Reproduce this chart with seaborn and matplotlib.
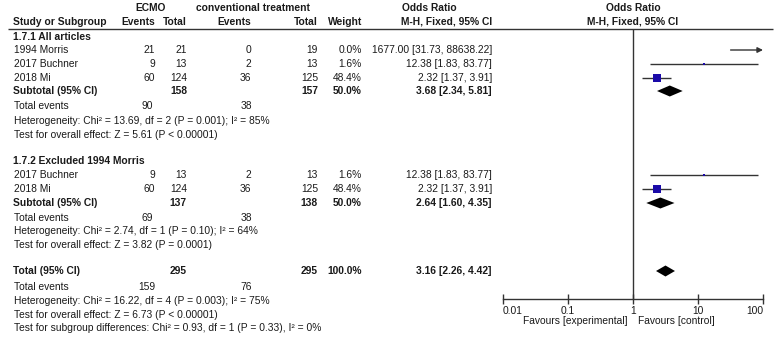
import numpy as np
import pandas as pd
import matplotlib
matplotlib.use("Agg")
import matplotlib.pyplot as plt
import seaborn as sns

sns.set_theme(style="white")
plt.rcParams['font.family'] = ['Liberation Sans', 'DejaVu Sans']

# ---- data ----
sub1_names = ["1994 Morris", "2017 Buchner", "2018 Mi"]
sub1_e_events = [21, 9, 60]
sub1_e_total = [21, 13, 124]
sub1_c_events = [0, 2, 36]
sub1_c_total = [19, 13, 125]
sub1_weight = [0.0, 1.6, 48.4]
sub1_or = [1677.00, 12.38, 2.32]
sub1_lo = [31.73, 1.83, 1.37]
sub1_hi = [88638.22, 83.77, 3.91]
sub1_sum = [3.68, 2.34, 5.81]
sub1_totals = [158, 157, 50.0]
sub1_events = [90, 38]
sub1_het = ["Heterogeneity: Chi² = 13.69, df = 2 (P = 0.001); I² = 85%",
            "Test for overall effect: Z = 5.61 (P < 0.00001)"]

sub2_names = ["2017 Buchner", "2018 Mi"]
sub2_e_events = [9, 60]
sub2_e_total = [13, 124]
sub2_c_events = [2, 36]
sub2_c_total = [13, 125]
sub2_weight = [1.6, 48.4]
sub2_or = [12.38, 2.32]
sub2_lo = [1.83, 1.37]
sub2_hi = [83.77, 3.91]
sub2_sum = [2.64, 1.60, 4.35]
sub2_totals = [137, 138, 50.0]
sub2_events = [69, 38]
sub2_het = ["Heterogeneity: Chi² = 2.74, df = 1 (P = 0.10); I² = 64%",
            "Test for overall effect: Z = 3.82 (P = 0.0001)"]

total_sum = [3.16, 2.26, 4.42]
total_totals = [295, 295, 100.0]
total_events = [159, 76]
total_het = ["Heterogeneity: Chi² = 16.22, df = 4 (P = 0.003); I² = 75%",
             "Test for overall effect: Z = 6.73 (P < 0.00001)",
             "Test for subgroup differences: Chi² = 0.93, df = 1 (P = 0.33), I² = 0%"]

tick_vals = [0.01, 0.1, 1, 10, 100]
tick_labels = ["0.01", "0.1", "1", "10", "100"]

# ---- layout ----
W, H = 778, 339
FS = 7.4
TXT = "#1a1a1a"
LINE = "#333333"
SQ = "#1a0aa8"

fig = plt.figure(figsize=(W / 100, H / 100), dpi=100)
ax = fig.add_axes([0, 0, 1, 1])
ax.set_xlim(0, W)
ax.set_ylim(H, 0)
ax.axis("off")

axis_y, top_y, x0, x1 = 299, 29, 503, 763
fax = fig.add_axes([x0 / W, (H - axis_y) / H, (x1 - x0) / W, (axis_y - top_y) / H])
fax.patch.set_alpha(0)

col_ev, col_tot, col_cev, col_ctot, col_w, col_ci = 155, 187, 251, 318, 362, 492


def txt(x, y, s, ha="left", bold=False):
    ax.text(x, y, s, ha=ha, va="center", fontsize=FS, color=TXT,
            fontweight="bold" if bold else "normal")


# headers
txt(151, 8, "ECMO", "center", True)
txt(253, 8, "conventional treatment", "center", True)
txt(402, 8, "Odds Ratio", "left", True)
txt(633, 8, "Odds Ratio", "center", True)
txt(13, 22, "Study or Subgroup", bold=True)
txt(col_ev, 22, "Events", "right", True)
txt(col_tot, 22, "Total", "right", True)
txt(col_cev, 22, "Events", "right", True)
txt(col_ctot, 22, "Total", "right", True)
txt(col_w, 22, "Weight", "right", True)
txt(401, 22, "M-H, Fixed, 95% CI", "left", True)
txt(633, 22, "M-H, Fixed, 95% CI", "center", True)
ax.hlines(29, 8, 773, color=LINE, lw=1)


def ci_text(v):
    return f"{v[0]:.2f} [{v[1]:.2f}, {v[2]:.2f}]"


def study_rows(ys, names, ee, et, ce, ct, w, o, lo, hi):
    for i, y in enumerate(ys):
        txt(14, y, names[i])
        txt(col_ev, y, str(ee[i]), "right")
        txt(col_tot, y, str(et[i]), "right")
        txt(col_cev, y, str(ce[i]), "right")
        txt(col_ctot, y, str(ct[i]), "right")
        txt(col_w, y, f"{w[i]:.1f}%", "right")
        txt(col_ci, y, ci_text([o[i], lo[i], hi[i]]), "right")
        if hi[i] > 100:
            fax.annotate("", xy=(100, y), xytext=(lo[i], y),
                         arrowprops=dict(arrowstyle="-|>", color=LINE, lw=1,
                                         mutation_scale=8, shrinkA=0, shrinkB=0))
        else:
            fax.hlines(y, max(lo[i], 0.01), hi[i], color=LINE, lw=1)
    df = pd.DataFrame({"or": o, "y": ys, "w": w})
    sns.scatterplot(data=df, x="or", y="y", size="w", sizes=(0, 37.4),
                    size_norm=(0, 48.4), marker="s", color=SQ, linewidth=0,
                    legend=False, ax=fax, zorder=3)


def diamond(y, v, h=5.5):
    fax.fill([v[1], v[0], v[2], v[0]], [y, y - h, y, y + h], color="black", lw=0)


def summary(y, label, v, totals):
    txt(13, y, label, bold=True)
    txt(col_tot, y, str(totals[0]), "right", True)
    txt(col_ctot, y, str(totals[1]), "right", True)
    txt(col_w, y, f"{totals[2]:.1f}%", "right", True)
    txt(col_ci, y, ci_text(v), "right", True)
    diamond(y, v)


# subgroup 1
txt(13, 37, "1.7.1 All articles", bold=True)
study_rows([50, 64, 78], sub1_names, sub1_e_events, sub1_e_total, sub1_c_events,
           sub1_c_total, sub1_weight, sub1_or, sub1_lo, sub1_hi)
summary(91, "Subtotal (95% CI)", sub1_sum, sub1_totals)
txt(14, 106, "Total events")
txt(153, 106, str(sub1_events[0]), "right")
txt(252, 106, str(sub1_events[1]), "right")
for y, s in zip([121, 135], sub1_het):
    txt(14, y, s)

# subgroup 2
txt(13, 161, "1.7.2 Excluded 1994 Morris", bold=True)
study_rows([175, 189], sub2_names, sub2_e_events, sub2_e_total, sub2_c_events,
           sub2_c_total, sub2_weight, sub2_or, sub2_lo, sub2_hi)
summary(203, "Subtotal (95% CI)", sub2_sum, sub2_totals)
txt(14, 218, "Total events")
txt(153, 218, str(sub2_events[0]), "right")
txt(252, 218, str(sub2_events[1]), "right")
for y, s in zip([231, 245], sub2_het):
    txt(14, y, s)

# overall
summary(271, "Total (95% CI)", total_sum, total_totals)
txt(14, 287, "Total events")
txt(155, 287, str(total_events[0]), "right")
txt(252, 287, str(total_events[1]), "right")
for y, s in zip([301, 315, 328], total_het):
    txt(14, y, s)

# forest axis
fax.axvline(1, color=LINE, lw=1)
fax.set_xscale("log")
fax.set_xlim(0.01, 100)
fax.set_ylim(axis_y, top_y)
fax.set_xlabel("")
fax.set_ylabel("")
fax.set_yticks([])
fax.minorticks_off()
fax.set_xticks(tick_vals)
fax.set_xticklabels(tick_labels, fontsize=FS, color=TXT)
fax.tick_params(axis="x", direction="inout", length=7, width=1, color=LINE, pad=1.5, bottom=True)
for s in ["top", "left", "right"]:
    fax.spines[s].set_visible(False)
fax.spines["bottom"].set_color(LINE)
fax.spines["bottom"].set_linewidth(1)
labs = fax.get_xticklabels()
labs[0].set_ha("left")
labs[-1].set_ha("right")

txt(628, 321, "Favours [experimental]", "right")
txt(638, 321, "Favours [control]", "left")

fig.savefig("out.png", dpi=100)
